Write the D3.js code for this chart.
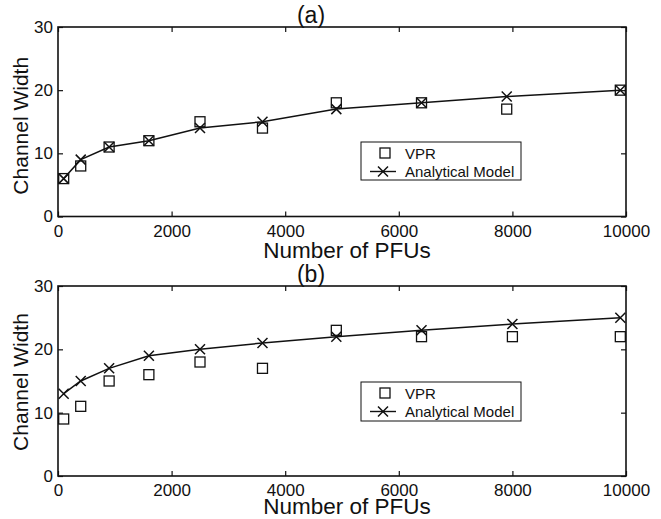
<!DOCTYPE html>
<html>
<head>
<meta charset="utf-8">
<script src="https://cdn.jsdelivr.net/npm/d3@7"></script>
<style>
  html, body { margin: 0; padding: 0; background: #fff; }
  svg { display: block; }
  text { font-family: "Liberation Sans", Arial, Helvetica, sans-serif; fill: #111; }
</style>
</head>
<body>
<svg id="chart" width="661" height="519"></svg>
<script>
// Channel width vs. number of PFUs, two cases
const pfuA   = [100, 400, 900, 1600, 2500, 3600, 4900, 6400, 7900, 9900];
const vprA   = [6, 8, 11, 12, 15, 14, 18, 18, 17, 20];
const modelA = [6, 9, 11, 12, 14, 15, 17, 18, 19, 20];

const pfuB   = [100, 400, 900, 1600, 2500, 3600, 4900, 6400, 8000, 9900];
const vprB   = [9, 11, 15, 16, 18, 17, 23, 22, 22, 22];
const modelB = [13, 15, 17, 19, 20, 21, 22, 23, 24, 25];

const xTicks = [0, 2000, 4000, 6000, 8000, 10000];
const yTicks = [0, 10, 20, 30];
const panelTitles = ["(a)", "(b)"];
const seriesNames = ["VPR", "Analytical Model"];
const xTitle = "Number of PFUs";
const yTitle = "Channel Width";

const svg = d3.select("#chart");
const ink = "#111";

const panels = [
  { title: panelTitles[0], pfu: pfuA, vpr: vprA, model: modelA,
    top: 27, bottom: 216.5, xlabGap: 41, ylabShift: 4,
    legend: { x: 361, y: 142, w: 160, h: 38 } },
  { title: panelTitles[1], pfu: pfuB, vpr: vprB, model: modelB,
    top: 286, bottom: 476, xlabGap: 38, ylabShift: 1,
    legend: { x: 361, y: 382, w: 160, h: 39 } }
];

const left = 58, right = 626;
const x = d3.scaleLinear().domain([0, 10000]).range([left, right]);

const sq = 10;   // square marker size
const cr = 5;    // half-size of cross marker

function cross(g, cx, cy) {
  g.append("path")
    .attr("d", `M${cx - cr},${cy - cr}L${cx + cr},${cy + cr}M${cx - cr},${cy + cr}L${cx + cr},${cy - cr}`)
    .attr("stroke", ink).attr("stroke-width", 1.5).attr("fill", "none");
}
function square(g, cx, cy) {
  g.append("rect")
    .attr("x", cx - sq / 2).attr("y", cy - sq / 2)
    .attr("width", sq).attr("height", sq)
    .attr("stroke", ink).attr("stroke-width", 1.3).attr("fill", "none");
}

panels.forEach(p => {
  const y = d3.scaleLinear().domain([0, 30]).range([p.bottom, p.top]);
  const g = svg.append("g");

  // box axes with inward ticks on all sides
  const tl = 5;
  g.append("g").attr("transform", `translate(0,${p.bottom})`)
    .call(d3.axisBottom(x).tickValues(xTicks).tickSize(-tl).tickPadding(8).tickFormat(d3.format("d")))
    .call(a => a.select(".domain").remove());
  g.append("g").attr("transform", `translate(0,${p.top})`)
    .call(d3.axisTop(x).tickValues(xTicks).tickSize(-tl).tickFormat(""))
    .call(a => a.select(".domain").remove());
  g.append("g").attr("transform", `translate(${left},0)`)
    .call(d3.axisLeft(y).tickValues(yTicks).tickSize(-tl).tickPadding(5).tickFormat(d3.format("d")))
    .call(a => a.select(".domain").remove());
  g.append("g").attr("transform", `translate(${right},0)`)
    .call(d3.axisRight(y).tickValues(yTicks).tickSize(-tl).tickFormat(""))
    .call(a => a.select(".domain").remove());

  g.selectAll(".tick line").attr("stroke", ink).attr("stroke-width", 1.2);
  g.selectAll(".tick text").attr("font-size", 17).attr("fill", ink)
    .attr("font-family", "'Liberation Sans', Arial, sans-serif");

  g.append("rect")
    .attr("x", left).attr("y", p.top)
    .attr("width", right - left).attr("height", p.bottom - p.top)
    .attr("fill", "none").attr("stroke", ink).attr("stroke-width", 1.6);

  // model line
  const pts = p.pfu.map((v, i) => [x(v), y(p.model[i])]);
  g.append("path").attr("d", d3.line()(pts))
    .attr("fill", "none").attr("stroke", ink).attr("stroke-width", 1.5);
  pts.forEach(([cx, cy]) => cross(g, cx, cy));

  // VPR squares
  p.pfu.forEach((v, i) => square(g, x(v), y(p.vpr[i])));

  // titles
  g.append("text").attr("x", 311).attr("y", p.top - 4)
    .attr("text-anchor", "middle").attr("font-size", 23).text(p.title);
  g.append("text").attr("x", (left + right) / 2 + 5).attr("y", p.bottom + p.xlabGap)
    .attr("text-anchor", "middle").attr("font-size", 22.5).text(xTitle);
  g.append("text")
    .attr("transform", `translate(28,${(p.top + p.bottom) / 2 + p.ylabShift}) rotate(-90)`)
    .attr("text-anchor", "middle").attr("font-size", 21).text(yTitle);

  // legend
  const L = p.legend;
  const lg = g.append("g");
  lg.append("rect").attr("x", L.x).attr("y", L.y).attr("width", L.w).attr("height", L.h)
    .attr("fill", "#fff").attr("stroke", ink).attr("stroke-width", 1);
  const r1 = L.y + 11, r2 = L.y + 29.5;
  square(lg, L.x + 24, r1);
  lg.append("line").attr("x1", L.x + 9).attr("x2", L.x + 35).attr("y1", r2).attr("y2", r2)
    .attr("stroke", ink).attr("stroke-width", 1.4);
  cross(lg, L.x + 22, r2);
  lg.append("text").attr("x", L.x + 44).attr("y", r1 + 5.5).attr("font-size", 15).text(seriesNames[0]);
  lg.append("text").attr("x", L.x + 44).attr("y", r2 + 5.5).attr("font-size", 15).text(seriesNames[1]);
});
</script>
</body>
</html>
